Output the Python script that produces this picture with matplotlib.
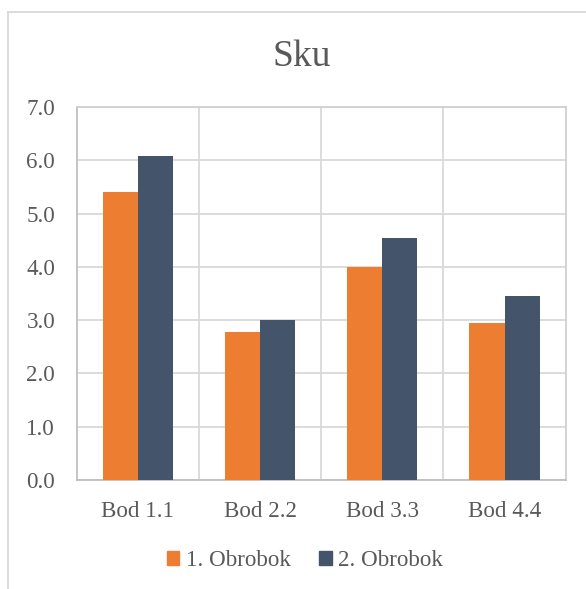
import matplotlib
matplotlib.use("Agg")
import matplotlib.pyplot as plt
import numpy as np
from matplotlib.lines import Line2D
from matplotlib.patches import Patch

categories = ["Bod 1.1", "Bod 2.2", "Bod 3.3", "Bod 4.4"]
series_names = ["1. Obrobok", "2. Obrobok"]
obrobok1 = [5.41, 2.78, 3.99, 2.95]
obrobok2 = [6.08, 3.00, 4.55, 3.46]
y_ticks = [0, 1, 2, 3, 4, 5, 6, 7]
y_tick_labels = ["0.0", "1.0", "2.0", "3.0", "4.0", "5.0", "6.0", "7.0"]
title = "Sku"

plt.rcParams['font.family'] = ['Liberation Serif', 'DejaVu Serif']
text_color = "#595959"
c1 = "#ED7D31"
c2 = "#44546A"
grid_c = "#D9D9D9"

W, H = 586, 589
fig = plt.figure(figsize=(W / 100, H / 100), dpi=100)
ax = fig.add_axes([76.7 / W, 1 - 480 / H, (565.7 - 76.7) / W, (480 - 107) / H])

x = np.arange(len(categories))
bw = 0.287
ax.bar(x - bw / 2, obrobok1, bw, color=c1, zorder=3, label=series_names[0])
ax.bar(x + bw / 2, obrobok2, bw, color=c2, zorder=3, label=series_names[1])

ax.set_xlim(-0.5, len(categories) - 0.5)
ax.set_ylim(0, 7)
ax.set_yticks(y_ticks)
ax.set_yticklabels(y_tick_labels)
ax.set_xticks(x)
ax.set_xticklabels(categories)
ax.set_xticks(np.arange(len(categories) - 1) + 0.5, minor=True)
ax.grid(True, which='major', axis='y', color=grid_c, lw=1.3, zorder=0)
ax.grid(True, which='minor', axis='x', color=grid_c, lw=1.3, zorder=0)
ax.tick_params(axis='both', which='both', length=0, labelsize=16.6, colors=text_color)
ax.tick_params(axis='y', pad=15.5)
ax.tick_params(axis='x', pad=15)
for s in ax.spines.values():
    s.set_color("#D0D0D0")
    s.set_linewidth(1.3)
ax.spines['left'].set_color("#BFBFBF")
ax.spines['bottom'].set_color("#BFBFBF")

fig.text(302 / W, 1 - 57 / H, title, ha='center', va='center', fontsize=27, color=text_color)

handles = [Patch(color=c1), Patch(color=c2)]
fig.legend(handles, series_names, loc='center', bbox_to_anchor=(305 / W, 1 - 561 / H),
           ncol=2, frameon=False, fontsize=16.6, handlelength=0.55, handleheight=0.55,
           handletextpad=0.3, columnspacing=1.2, labelcolor=text_color)

# chart frame (cropped)
fig.add_artist(Line2D([8 / W, 8 / W], [0, 1 - 12 / H], transform=fig.transFigure, color="#D9D9D9", lw=1.3))
fig.add_artist(Line2D([8 / W, 1], [1 - 12 / H, 1 - 12 / H], transform=fig.transFigure, color="#D9D9D9", lw=1.3))

fig.savefig("out.png", dpi=100)
